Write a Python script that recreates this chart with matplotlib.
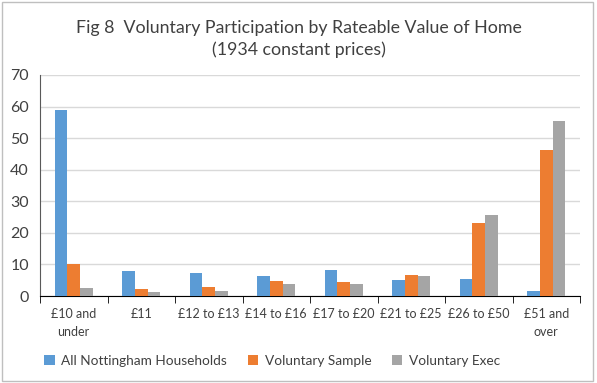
import numpy as np
import matplotlib
matplotlib.use("Agg")
import matplotlib.pyplot as plt
from matplotlib.patches import Rectangle

plt.rcParams['font.family'] = ['Lato', 'DejaVu Sans']

categories = ['£10 and\nunder', '£11', '£12 to £13', '£14 to £16',
              '£17 to £20', '£21 to £25', '£26 to £50', '£51 and\nover']
households = [58.9, 7.9, 7.3, 6.3, 8.2, 5.1, 5.4, 1.6]
vol_sample = [10.1, 2.2, 2.9, 4.8, 4.4, 6.7, 23.1, 46.2]
vol_exec = [2.5, 1.3, 1.6, 3.8, 3.8, 6.3, 25.7, 55.4]
series_names = ['All Nottingham Households', 'Voluntary Sample', 'Voluntary Exec']
colors = ['#5B9BD5', '#ED7D31', '#A5A5A5']

fig = plt.figure(figsize=(5.97, 3.83), dpi=100)
ax = fig.add_axes([40 / 597, 1 - 296 / 383, 540 / 597, 221 / 383])

x = np.arange(len(categories))
w = 0.19
for i, (vals, name, c) in enumerate(zip([households, vol_sample, vol_exec], series_names, colors)):
    ax.bar(x + (i - 1) * w, vals, w, color=c, label=name, zorder=3)

ax.set_xlim(-0.5, len(categories) - 0.5)
ax.set_ylim(0, 70)
ax.set_yticks(range(0, 71, 10))
ax.yaxis.grid(True, color='#D9D9D9', linewidth=1, zorder=0)
ax.set_xticks(x)
ax.set_xticklabels(categories, fontsize=9, color='#404040', linespacing=1.55)
ax.set_xticks(np.arange(-0.5, len(categories), 1), minor=True)
ax.tick_params(axis='x', which='major', length=0, pad=9)
ax.tick_params(axis='x', which='minor', length=5, color='black', direction='out')
ax.tick_params(axis='y', length=0, labelsize=11.5, labelcolor='#404040', pad=8)
for s in ['top', 'right']:
    ax.spines[s].set_visible(False)
ax.spines['bottom'].set_color('black')
ax.spines['left'].set_color('#595959')

fig.text(0.5, 1 - 28 / 383, 'Fig 8  Voluntary Participation by Rateable Value of Home',
         ha='center', va='center', fontsize=12.8, color='#404040')
fig.text(0.5, 1 - 50 / 383, '(1934 constant prices)',
         ha='center', va='center', fontsize=12.8, color='#404040')

ax.legend(loc='center left', bbox_to_anchor=(0.008, -0.295), ncol=3, frameon=False,
          fontsize=9.8, labelcolor='#404040', handlelength=0.75, handleheight=0.75,
          columnspacing=1.5, handletextpad=0.5, borderaxespad=0, borderpad=0)

fig.patches.append(Rectangle((0.004, 0.004), 0.99, 0.99, transform=fig.transFigure,
                             fill=False, edgecolor='#BFBFBF', linewidth=1))

fig.savefig('out.png', dpi=100)
